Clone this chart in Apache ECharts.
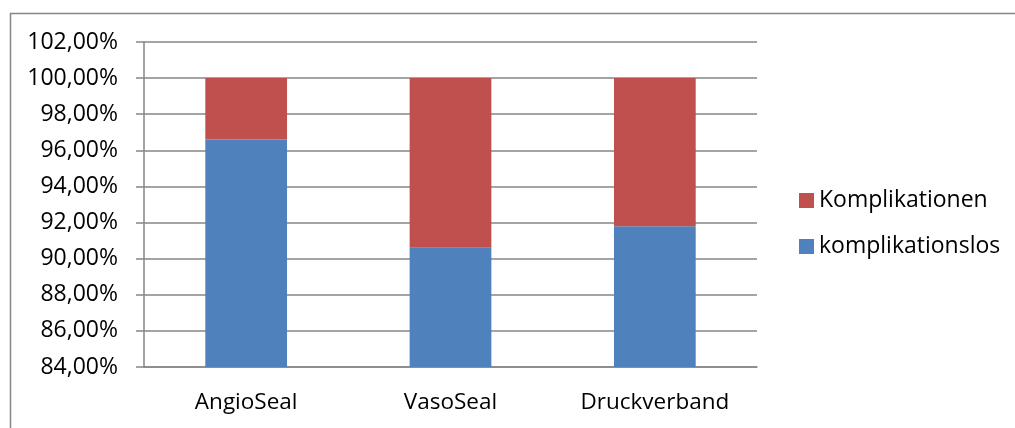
<!DOCTYPE html>
<html>
<head>
<meta charset="utf-8">
<script src="https://cdn.jsdelivr.net/npm/echarts@6/dist/echarts.min.js"></script>
<style>
html,body{margin:0;padding:0;background:#fff;}
#c{width:1015px;height:428px;}
</style>
</head>
<body>
<div id="c"></div>
<script>
var categories = ['AngioSeal', 'VasoSeal', 'Druckverband'];
var komplikationslos = [96.6, 90.6, 91.8];
var komplikationen = [3.4, 9.4, 8.2];
var yMin = 84, yMax = 102, yStep = 2;

var FONT = 'Open Sans';
var chart = echarts.init(document.getElementById('c'));
chart.setOption({
  animation: false,
  backgroundColor: '#fff',
  textStyle: { fontFamily: FONT },
  graphic: [{
    type: 'rect', left: 8, top: 11, silent: true,
    shape: { width: 1030, height: 440 },
    style: { fill: 'none', stroke: '#868686', lineWidth: 1.5 }
  }],
  grid: { left: 144, right: 258, top: 42, bottom: 61 },
  legend: {
    orient: 'vertical',
    left: 799, top: 189, padding: 0,
    itemWidth: 15, itemHeight: 15, itemGap: 23, itemTextGap: 7,
    icon: 'rect',
    data: ['Komplikationen', 'komplikationslos'],
    textStyle: { fontFamily: FONT, fontSize: 23, color: '#000', lineHeight: 22 }
  },
  xAxis: {
    type: 'category',
    data: categories,
    axisLine: { lineStyle: { color: '#868686', width: 1.5 } },
    axisTick: { length: 8, lineStyle: { color: '#868686', width: 1.5 } },
    axisLabel: { color: '#000', fontSize: 22.5, fontFamily: FONT, margin: 24 }
  },
  yAxis: {
    type: 'value',
    min: yMin, max: yMax, interval: yStep,
    axisLine: { show: true, lineStyle: { color: '#868686', width: 1.5 } },
    axisTick: { show: true, length: 8, lineStyle: { color: '#868686', width: 1.5 } },
    splitLine: { lineStyle: { color: '#868686', width: 1.5 } },
    axisLabel: {
      color: '#000', fontSize: 23, fontFamily: FONT, margin: 26,
      formatter: function (v) { return v.toFixed(2).replace('.', ',') + '%'; }
    }
  },
  series: [
    { name: 'komplikationslos', type: 'bar', stack: 'a', data: komplikationslos, barWidth: '40%', itemStyle: { color: '#4F81BD' } },
    { name: 'Komplikationen', type: 'bar', stack: 'a', data: komplikationen, barWidth: '40%', itemStyle: { color: '#C0504D' } }
  ]
});
</script>
</body>
</html>
